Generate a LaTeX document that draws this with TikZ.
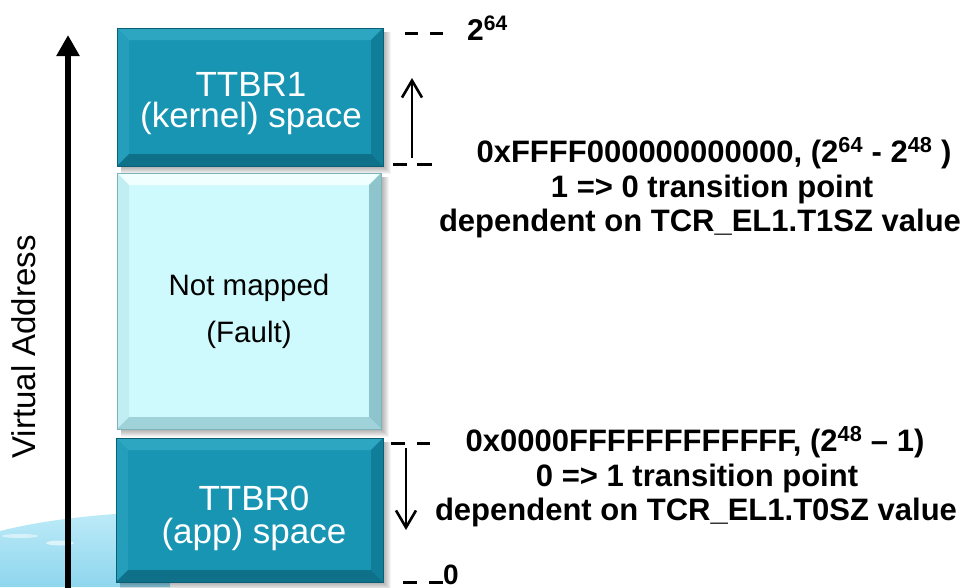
\documentclass[tikz,border=0pt]{standalone}
\usepackage{fontspec}
\setmainfont{Liberation Sans}
\usetikzlibrary{arrows.meta}

\definecolor{tealbase}{HTML}{1795B3}
\definecolor{tealtop}{HTML}{2DA6C2}
\definecolor{tealleft}{HTML}{249EBB}
\definecolor{tealright}{HTML}{107E99}
\definecolor{tealbot}{HTML}{0E7089}
\definecolor{tealedge}{HTML}{0B5E73}
\definecolor{lightbase}{HTML}{CFFAFD}
\definecolor{lighttop}{HTML}{F0FFFF}
\definecolor{lightleft}{HTML}{C0EEF2}
\definecolor{lightright}{HTML}{8EC5CD}
\definecolor{lightbot}{HTML}{A0D2D9}
\definecolor{lightedge}{HTML}{7EB2B9}
\definecolor{globeA}{HTML}{BEEBF8}
\definecolor{globeB}{HTML}{8ED6EE}

\newcommand\bevbox[5]{% x1,y1,x2,y2,prefix
  \foreach \s in {1,...,8}{\fill[black,opacity=0.045] ({#1+4},{#2+4}) rectangle ({#3+\s},{#4+\s});}
  \fill[#5base] (#1,#2) rectangle (#3,#4);
  \fill[#5top] (#1,#2) -- (#3,#2) -- ({#3-12},{#2+12}) -- ({#1+12},{#2+12}) -- cycle;
  \fill[#5left] (#1,#2) -- ({#1+12},{#2+12}) -- ({#1+12},{#4-12}) -- (#1,#4) -- cycle;
  \fill[#5right] (#3,#2) -- (#3,#4) -- ({#3-12},{#4-12}) -- ({#3-12},{#2+12}) -- cycle;
  \fill[#5bot] (#1,#4) -- (#3,#4) -- ({#3-12},{#4-12}) -- ({#1+12},{#4-12}) -- cycle;
  \draw[#5edge, line width=0.8pt] (#1,#2) rectangle (#3,#4);
}

\tikzset{
  boxlabel/.style={inner sep=0pt, align=center, text=white, font=\fontsize{35}{31}\selectfont},
  faultlabel/.style={inner sep=0pt, align=center, text=black, font=\fontsize{29.5}{47}\selectfont},
  infotext/.style={inner sep=0pt, anchor=base, font=\fontsize{31}{34}\selectfont\bfseries},
  tickmark/.style={line width=3pt},
  smallarrow/.style={line width=2.6pt, -{Straight Barb[width=20pt,length=17pt,line width=2.6pt]}},
}

\begin{document}
\begin{tikzpicture}[x=1pt,y=-1pt]
\useasboundingbox (0,0) rectangle (973,587);
\fill[white] (0,0) rectangle (973,587);

% globe in background
\shade[top color=globeA, bottom color=globeB] (0,531) .. controls (40,521) and (90,514) .. (170,511) -- (170,587) -- (0,587) -- cycle;
\fill[white,opacity=0.6] (60,543) ellipse (14 and 2.5);
\fill[white,opacity=0.5] (20,536) ellipse (18 and 2);

% boxes
\bevbox{117}{28}{383}{166}{teal}
\bevbox{117}{173}{381}{429}{light}
\bevbox{116}{438}{383}{582}{teal}

\node[boxlabel] (kernel) at (251,104) {TTBR1\\(kernel) space};
\node[faultlabel] (fault) at (249,311) {Not mapped\\(Fault)};
\node[boxlabel, font=\fontsize{35}{33}\selectfont] (app) at (254,518) {TTBR0\\(app) space};

% axis
\coordinate (axisbot) at (68,590);
\coordinate (axistop) at (68,35);
\draw[line width=6pt, -{Triangle[width=22pt,length=21pt]}] (axisbot) -- (axistop);
\node[rotate=90, inner sep=0pt, font=\fontsize{33}{33}\selectfont] (va) at (24,347) {Virtual Address};

% tick marks
\draw[tickmark] (405,33) -- (418,33);
\draw[tickmark] (430,33) -- (443,33);
\draw[tickmark] (393,164) -- (407,164);
\draw[tickmark] (417,164) -- (432,164);
\draw[tickmark] (391,443) -- (405,443);
\draw[tickmark] (417,443) -- (430,443);
\draw[tickmark] (403,582) -- (417,582);
\draw[tickmark] (429,582) -- (443,582);

\node[inner sep=0pt, anchor=base west, font=\fontsize{30}{30}\selectfont\bfseries] (top64) at (467,40) {2\textsuperscript{64}};
\node[inner sep=0pt, anchor=base west, font=\fontsize{28}{28}\selectfont\bfseries] (zero) at (443,584) {0};

% arrows
\coordinate (upS) at (412,158);
\coordinate (upE) at (412,78);
\draw[smallarrow] (upS) -- (upE);
\coordinate (dnS) at (406,448);
\coordinate (dnE) at (406,530);
\draw[smallarrow] (dnS) -- (dnE);

% info texts
\node[infotext] (hiA) at (714,162) {0xFFFF000000000000, (2\textsuperscript{64} - 2\textsuperscript{48}\ )};
\node[infotext] (hiB) at (712,197) {1 => 0 transition point};
\node[infotext] (hiC) at (700,231) {dependent on TCR\_EL1.T1SZ value};
\node[infotext] (loA) at (695,451) {0x0000FFFFFFFFFFFF, (2\textsuperscript{48} – 1)};
\node[infotext] (loB) at (697,486) {0 => 1 transition point};
\node[infotext] (loC) at (696,520) {dependent on TCR\_EL1.T0SZ value};
\end{tikzpicture}
\end{document}
